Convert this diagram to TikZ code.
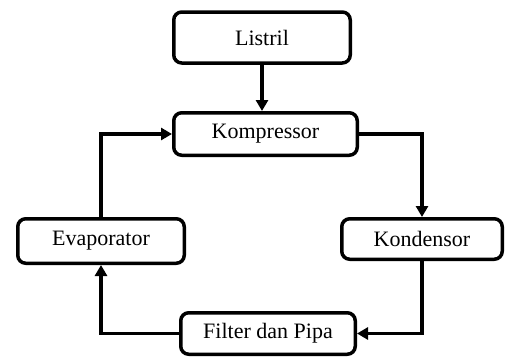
\documentclass[tikz,border=0pt]{standalone}
\usepackage{fontspec}
\setmainfont{Liberation Serif}
\usetikzlibrary{arrows.meta}
\begin{document}
\begin{tikzpicture}[x=1pt,y=-1pt,
  blok/.style={draw,line width=3.5pt,rounded corners=8pt,inner sep=0pt,
    font=\fontsize{22}{26}\selectfont},
  panah/.style={line width=3.5pt,-{Triangle[length=11pt,width=12pt]}}]
\useasboundingbox (0,0) rectangle (505,359);
% kotak-kotak
\node[blok,minimum width=176.5pt,minimum height=51pt] (lis) at (262,37.5) {Listril};
\node[blok,minimum width=183.5pt,minimum height=42.5pt] (kom) at (265.5,134) {Kompressor};
\node[blok,minimum width=166.5pt,minimum height=44.5pt] (eva) at (101,241) {Evaporator};
\node[blok,minimum width=160.5pt,minimum height=40.5pt] (kon) at (422,239) {Kondensor};
\node[blok,minimum width=174.5pt,minimum height=41.5pt] (fil) at (268,333.5) {Filter dan Pipa};
% panah
\draw[panah] (lis.south) -- (lis.south |- kom.north);
\draw[panah] (eva.north) |- (kom.west);
\draw[panah] (kom.east) -| (kon.north);
\draw[panah] (kon.south) |- (fil.east);
\draw[panah] (fil.west) -| (eva.south);
\end{tikzpicture}
\end{document}
